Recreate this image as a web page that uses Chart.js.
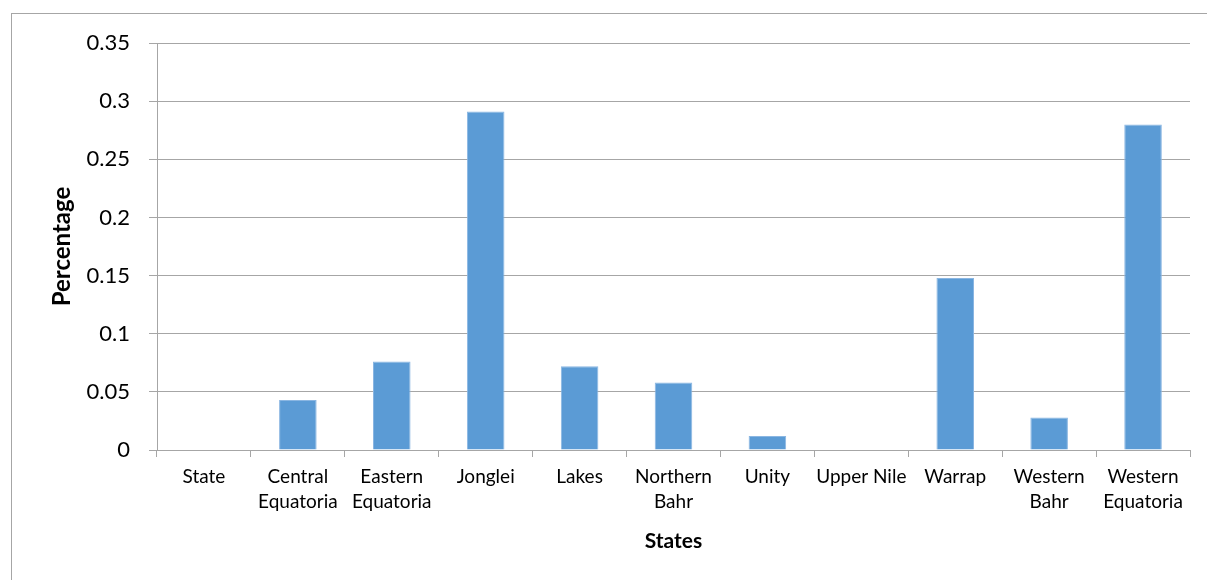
<!DOCTYPE html>
<html>
<head>
<meta charset="utf-8">
<script src="https://cdn.jsdelivr.net/npm/chart.js@4/dist/chart.umd.min.js"></script>
<style>
  body { margin: 0; background: #fff; overflow: hidden; }
  #wrap { position: relative; width: 1207px; height: 580px; }
  #frame { position: absolute; left: 11px; top: 13px; width: 1300px; height: 700px; border: 1px solid #a6a6a6; box-sizing: border-box; }
  canvas { position: absolute; left: 0; top: 0; }
</style>
</head>
<body>
<div id="wrap">
  <div id="frame"></div>
  <canvas id="chart" width="1207" height="580"></canvas>
</div>
<script>
// states along the x axis (multi-line names as arrays)
const states = [
  'State',
  ['Central', 'Equatoria'],
  ['Eastern', 'Equatoria'],
  'Jonglei',
  'Lakes',
  ['Northern', 'Bahr'],
  'Unity',
  'Upper Nile',
  'Warrap',
  ['Western', 'Bahr'],
  ['Western', 'Equatoria']
];
const percentages = [0, 0.043, 0.076, 0.291, 0.072, 0.058, 0.012, 0, 0.148, 0.028, 0.28];
const yTickLabels = ['0', '0.05', '0.1', '0.15', '0.2', '0.25', '0.3', '0.35'];

const FONT = "Lato, 'Open Sans', sans-serif";
const GRID = '#a6a6a6';

new Chart(document.getElementById('chart'), {
  type: 'bar',
  data: {
    labels: states,
    datasets: [{
      data: percentages,
      backgroundColor: '#5b9bd5',
      borderColor: '#8ab6e2',
      borderWidth: 1,
      barPercentage: 0.4,
      categoryPercentage: 1
    }]
  },
  options: {
    responsive: false,
    devicePixelRatio: 1,
    animation: false,
    layout: { padding: { left: 40, top: 43, right: 17, bottom: 0 } },
    plugins: { legend: { display: false }, tooltip: { enabled: false } },
    scales: {
      x: {
        afterFit: s => { s.height = 130; },
        grid: { offset: true, drawOnChartArea: false, drawTicks: true, tickLength: 7, color: GRID },
        border: { color: GRID, width: 1 },
        ticks: { color: '#000', padding: 8, font: { family: FONT, size: 19, lineHeight: 1.3 }, maxRotation: 0, autoSkip: false },
        title: { display: true, text: 'States', color: '#000', font: { family: FONT, size: 21, weight: 'bold' }, padding: { top: 0, bottom: 26 } }
      },
      y: {
        min: 0,
        max: 0.35,
        afterFit: s => { s.width = 117; },
        grid: { color: GRID, tickLength: 8, lineWidth: 1 },
        border: { color: GRID, width: 1 },
        ticks: {
          stepSize: 0.05,
          padding: 19,
          color: '#000',
          font: { family: FONT, size: 22 },
          callback: (v, i) => yTickLabels[i]
        },
        title: { display: true, text: 'Percentage', color: '#000', font: { family: FONT, size: 24, weight: 'bold' }, padding: { top: 8, bottom: 0 } }
      }
    }
  }
});
</script>
</body>
</html>
